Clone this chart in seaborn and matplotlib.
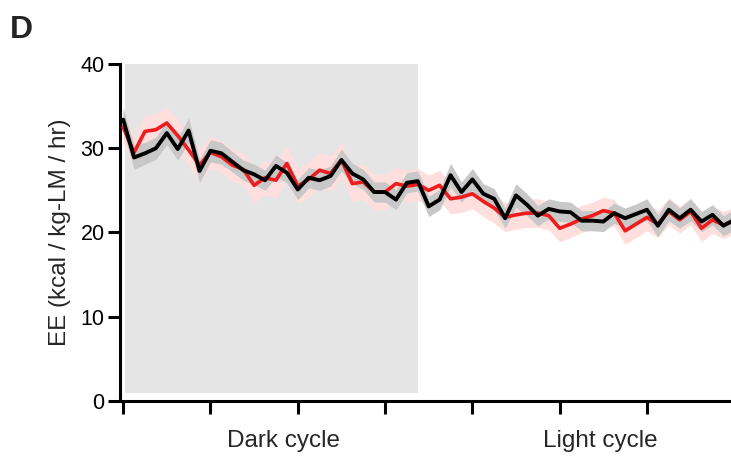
import numpy as np
import pandas as pd
import matplotlib
matplotlib.use("Agg")
import matplotlib.pyplot as plt
import seaborn as sns

# значения (шаг по оси X — один замер)
red_mean = [32.5, 29.5, 32.0, 32.2, 33.0, 31.5, 29.8, 28.0, 29.5, 29.0,
            28.0, 27.5, 25.6, 26.5, 26.2, 28.2, 25.5, 26.3, 27.4, 27.0,
            28.6, 25.8, 26.0, 24.8, 24.8, 25.8, 25.5, 25.7, 25.0, 25.6,
            24.0, 24.2, 24.6, 23.7, 22.9, 21.8, 22.1, 22.3, 22.3, 22.0,
            20.5, 21.0, 21.6, 22.0, 22.6, 22.3, 20.2, 21.0, 21.8, 21.0,
            22.5, 21.5, 22.5, 20.5, 21.5, 20.9, 21.4]
red_sem = [1.9, 1.9, 1.9, 1.9, 1.9, 1.9, 1.9, 1.9, 1.9, 1.9,
           1.9, 1.9, 2.0, 2.0, 2.1, 2.1, 2.1, 2.1, 2.1, 2.1,
           2.1, 2.1, 2.1, 2.1, 2.1, 1.9, 1.9, 1.9, 1.8, 1.8,
           1.8, 1.8, 1.8, 1.8, 1.8, 1.7, 1.7, 1.7, 1.7, 1.7,
           1.6, 1.6, 1.6, 1.6, 1.6, 1.6, 1.6, 1.6, 1.6, 1.6,
           1.6, 1.6, 1.6, 1.6, 1.6, 1.6, 1.6]

black_mean = [33.4, 28.9, 29.4, 30.0, 31.8, 29.9, 32.1, 27.3, 29.7, 29.4,
              28.4, 27.4, 26.9, 26.2, 27.9, 27.1, 25.1, 26.5, 26.2, 26.7,
              28.6, 27.0, 26.3, 24.8, 24.8, 23.9, 25.9, 26.1, 23.1, 23.9,
              26.8, 24.8, 26.3, 24.6, 24.0, 21.7, 24.4, 23.3, 22.0, 22.8,
              22.5, 22.4, 21.4, 21.4, 21.3, 22.3, 21.7, 22.2, 22.7, 20.8,
              22.7, 21.7, 22.7, 21.3, 22.1, 20.8, 21.5]
black_sem = [1.4, 1.4, 1.3, 1.3, 1.4, 1.3, 1.5, 1.4, 1.3, 1.3,
             1.2, 1.2, 1.2, 1.2, 1.3, 1.2, 1.2, 1.2, 1.2, 1.2,
             1.3, 1.2, 1.2, 1.2, 1.2, 1.2, 1.2, 1.2, 1.2, 1.2,
             1.4, 1.2, 1.3, 1.2, 1.2, 1.2, 1.4, 1.3, 1.2, 1.2,
             1.2, 1.2, 1.2, 1.2, 1.2, 1.2, 1.2, 1.2, 1.3, 1.3,
             1.3, 1.2, 1.3, 1.2, 1.2, 1.2, 1.2]

x_ticks = [0, 8, 16, 24, 32, 40, 48]
cycle_labels = ["Dark cycle", "Light cycle"]
cycle_label_x = [14.7, 43.7]
dark_span = [0.2, 27.0]

df = pd.DataFrame({
    "t": np.arange(len(red_mean)),
    "red": red_mean, "red_sem": red_sem,
    "black": black_mean, "black_sem": black_sem,
})

sns.set_style("ticks")
plt.rcParams['font.family'] = ['Liberation Sans', 'DejaVu Sans']

fig = plt.figure(figsize=(7.31, 4.57), dpi=100)
ax = fig.add_axes([0.164, 0.1225, 0.836, 0.7375])

# серый фон тёмной фазы
ax.fill_between(dark_span, 0.95, 40, color="#e5e5e5", lw=0, zorder=0)

# полосы ошибок
ax.fill_between(df["t"], df["red"] - df["red_sem"], df["red"] + df["red_sem"],
                color="#ffdede", lw=0, zorder=1)
ax.fill_between(df["t"], df["black"] - df["black_sem"], df["black"] + df["black_sem"],
                color="#c8c8c8", lw=0, zorder=2)

sns.lineplot(data=df, x="t", y="red", color="#ee1c1c", lw=2.6, ax=ax, zorder=3)
sns.lineplot(data=df, x="t", y="black", color="black", lw=2.8, ax=ax, zorder=4)

ax.set_xlim(-0.3, 55.7)
ax.set_ylim(0, 40)
ax.set_yticks([0, 10, 20, 30, 40])
ax.set_xticks(x_ticks)
ax.set_xticklabels([])
ax.set_xlabel("")
ax.set_ylabel("EE (kcal / kg-LM / hr)", fontsize=17.5, labelpad=7)
ax.tick_params(axis="y", labelsize=15.5, length=9, width=2.2, pad=2, colors="black")
ax.tick_params(axis="x", length=9, width=2.2, colors="black")
for side in ["left", "bottom"]:
    ax.spines[side].set_linewidth(2.2)
    ax.spines[side].set_color("black")
sns.despine(ax=ax)

for lab, xc in zip(cycle_labels, cycle_label_x):
    ax.text(xc, -0.12, lab, transform=ax.get_xaxis_transform(),
            ha="center", va="center", fontsize=17.5)

fig.text(0.013, 0.935, "D", fontsize=23, fontweight="bold", ha="left", va="center")

fig.savefig("out.png", dpi=100)
